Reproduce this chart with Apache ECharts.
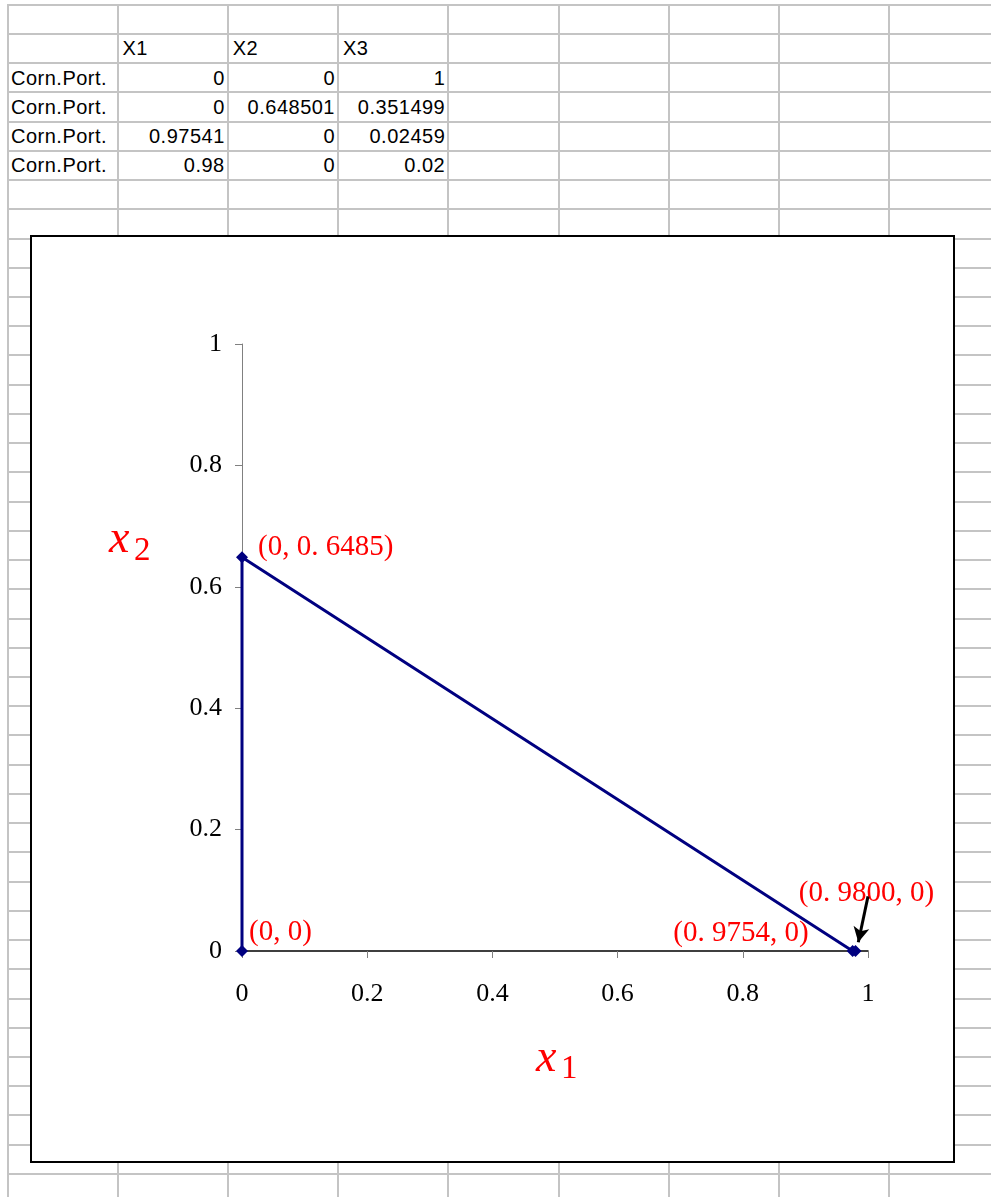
<!DOCTYPE html>
<html>
<head>
<meta charset="utf-8">
<script src="https://cdn.jsdelivr.net/npm/echarts@6.0.0/dist/echarts.min.js"></script>
<style>
html,body{margin:0;padding:0;width:991px;height:1198px;overflow:hidden;background:#fff;}
#sheet{position:absolute;left:0;top:0;width:991px;height:1198px;}
.hl{position:absolute;height:2px;background:#c4c4c4;}
.vl{position:absolute;width:2px;background:#c4c4c4;}
.cell{position:absolute;font-family:'Liberation Sans',Arial,sans-serif;font-size:20px;letter-spacing:0.5px;color:#000;white-space:nowrap;box-sizing:border-box;}
#chartBox{position:absolute;left:30px;top:235px;width:925px;height:928px;box-sizing:border-box;border:2px solid #000;background:#fff;z-index:5;}
#chart{width:921px;height:924px;}
</style>
</head>
<body>
<div id="sheet"></div>
<div id="chartBox"><div id="chart"></div></div>
<script>
// ---- data ----
const colHeaders = ['X1', 'X2', 'X3'];
const rowLabels = ['Corn.Port.', 'Corn.Port.', 'Corn.Port.', 'Corn.Port.'];
const x1 = [0, 0, 0.97541, 0.98];
const x2 = [0, 0.648501, 0, 0];
const x3 = [1, 0.351499, 0.02459, 0.02];
const pointLabels = ['(0, 0)', '(0, 0. 6485)', '(0. 9754, 0)', '(0. 9800, 0)'];
const axisMin = 0, axisMax = 1, axisStep = 0.2;
const arrowFrom = [1.0, 0.09];
const arrowTo = [0.9845, 0.0145];

// ---- spreadsheet background ----
const sheet = document.getElementById('sheet');
const rowTop0 = 4.7, rowH = 29.23, nRows = 40;
const colX = [8, 117.5, 227.75, 338, 448.25, 558.5, 668.75, 779, 889.25];
function addDiv(cls, css, text) {
  const d = document.createElement('div');
  d.className = cls;
  Object.assign(d.style, css);
  if (text !== undefined) d.textContent = text;
  sheet.appendChild(d);
  return d;
}
for (let j = 0; j <= nRows; j++) {
  const y = rowTop0 + rowH * j;
  addDiv('hl', {left: '8px', top: (y - 1) + 'px', width: '983px'});
}
colX.forEach(x => addDiv('vl', {left: (x - 1) + 'px', top: (rowTop0 - 1) + 'px', height: (1198 - rowTop0) + 'px'}));

function cell(col, row, text, align) {
  const left = colX[col], right = colX[col + 1];
  const top = rowTop0 + rowH * row;
  const css = {left: left + 'px', top: (top + 0.5) + 'px', width: (right - left) + 'px', height: rowH + 'px',
    lineHeight: rowH + 'px', textAlign: align};
  if (align === 'left') css.paddingLeft = (col === 0 ? 3 : 5) + 'px';
  else css.paddingRight = '3px';
  addDiv('cell', css, text);
}
colHeaders.forEach((h, i) => cell(i + 1, 1, h, 'left'));
const cols = [x1, x2, x3];
rowLabels.forEach((lab, r) => {
  cell(0, r + 2, lab, 'left');
  cols.forEach((arr, c) => cell(c + 1, r + 2, String(arr[r]), 'right'));
});

// ---- chart ----
const labelLayouts = [
  {position: 'right', distance: 1, offset: [0, -19]},
  {position: 'right', distance: 10, offset: [0, -10]},
  {position: 'left', distance: 38, offset: [0, -18]},
  {position: 'top', distance: 37, offset: [11, 0]}
];
const serif = "'Liberation Serif','Times New Roman',serif";
const chart = echarts.init(document.getElementById('chart'), null, {renderer: 'canvas'});
chart.setOption({
  animation: false,
  backgroundColor: '#fff',
  grid: {left: 210, top: 107, width: 626, height: 607, containLabel: false},
  xAxis: {
    type: 'value', min: axisMin, max: axisMax, interval: axisStep,
    axisLine: {show: true, onZero: false, lineStyle: {color: '#000', width: 1.5}},
    axisTick: {show: true, inside: false, length: 7, lineStyle: {color: '#808080', width: 1}},
    axisLabel: {color: '#000', fontFamily: serif, fontSize: 26, margin: 30},
    splitLine: {show: false}
  },
  yAxis: {
    type: 'value', min: axisMin, max: axisMax, interval: axisStep,
    axisLine: {show: true, onZero: false, lineStyle: {color: '#808080', width: 1}},
    axisTick: {show: true, inside: false, length: 7, lineStyle: {color: '#808080', width: 1}},
    axisLabel: {color: '#000', fontFamily: serif, fontSize: 26, margin: 20},
    splitLine: {show: false}
  },
  graphic: [
    {type: 'text', left: 504, top: 799, silent: true, style: {text: 'x', fill: '#ff0000', font: 'italic 46px ' + serif}},
    {type: 'text', left: 529, top: 816, silent: true, style: {text: '1', fill: '#ff0000', font: '33px ' + serif}},
    {type: 'text', left: 77, top: 280, silent: true, style: {text: 'x', fill: '#ff0000', font: 'italic 46px ' + serif}},
    {type: 'text', left: 102, top: 298, silent: true, style: {text: '2', fill: '#ff0000', font: '33px ' + serif}}
  ],
  series: [{
    type: 'line',
    clip: false,
    symbol: 'diamond',
    symbolSize: 12,
    lineStyle: {color: '#000080', width: 3},
    itemStyle: {color: '#000080'},
    label: {show: true, color: '#ff0000', fontFamily: serif, fontSize: 29,
      formatter: p => pointLabels[p.dataIndex]},
    data: x1.map((v, i) => ({value: [v, x2[i]], label: labelLayouts[i]})),
    markLine: {
      silent: true,
      symbol: ['none', 'arrow'],
      symbolSize: [12, 15],
      label: {show: false},
      lineStyle: {color: '#000', width: 3, type: 'solid'},
      data: [[{coord: arrowFrom}, {coord: arrowTo}]]
    }
  }]
});
</script>
</body>
</html>
